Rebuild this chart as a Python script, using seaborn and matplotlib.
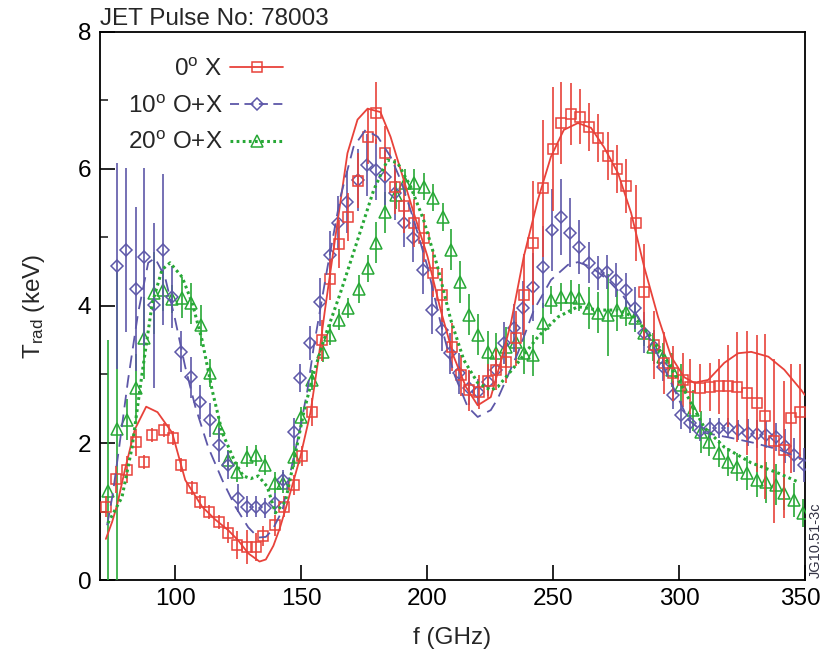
import matplotlib
matplotlib.use("Agg")
import matplotlib.pyplot as plt
import matplotlib.transforms as mtrans
from matplotlib.lines import Line2D
import seaborn as sns

# ------------------------------
# Data
# ------------------------------
# 0 deg X (red squares)
f_x0 = [72.6, 76.5, 80.9, 84.5, 87.7, 90.9, 95.6, 99.2, 102.4, 106.8, 109.9, 113.5, 117.5, 121.1,
        124.7, 128.6, 132.2, 135.0, 139.8, 143.4, 147.0, 150.5, 154.5, 158.1, 161.3, 165.2, 168.8,
        172.4, 176.4, 179.9, 183.5, 187.1, 190.7, 194.7, 198.6, 202.2, 205.8, 209.8, 213.4, 216.5,
        220.5, 224.0, 227.3, 231.3, 235.2, 238.4, 242.0, 246.0, 250.0, 253.1, 257.1, 260.7, 264.3,
        267.9, 271.8, 275.4, 279.0, 283.0, 286.2, 290.1, 294.1, 297.7, 301.7, 304.5, 308.5, 312.4,
        316.0, 319.6, 323.2, 327.1, 331.1, 334.3, 337.9, 341.8, 344.6, 348.2]
t_x0 = [1.07, 1.47, 1.61, 2.01, 1.72, 2.12, 2.19, 2.07, 1.68, 1.34, 1.14, 0.99, 0.85, 0.69,
        0.51, 0.48, 0.48, 0.64, 0.80, 1.07, 1.39, 1.81, 2.45, 3.50, 4.39, 4.91, 5.30,
        5.83, 6.47, 6.82, 6.23, 5.74, 5.46, 5.21, 4.99, 4.48, 4.16, 3.40, 2.99, 2.77,
        2.74, 2.90, 3.07, 3.18, 3.53, 4.16, 4.92, 5.72, 6.29, 6.67, 6.80, 6.76, 6.61,
        6.45, 6.19, 6.00, 5.75, 5.21, 4.20, 3.43, 3.17, 3.02, 2.92, 2.82, 2.80, 2.82,
        2.83, 2.83, 2.82, 2.73, 2.58, 2.39, 2.03, 1.90, 2.36, 2.45]
e_x0 = [0.15, 0.2, 0.2, 0.2, 0.1, 0.1, 0.1, 0.1, 0.1, 0.1, 0.1, 0.1, 0.1, 0.15,
        0.2, 0.25, 0.2, 0.15, 0.15, 0.15, 0.15, 0.15, 0.2, 0.3, 0.3, 0.35, 0.35,
        0.4, 0.4, 0.45, 0.4, 0.4, 0.4, 0.35, 0.35, 0.35, 0.4, 0.35, 0.3, 0.3,
        0.25, 0.25, 0.3, 0.3, 0.4, 0.6, 0.9, 1.0, 0.9, 0.6, 0.45, 0.4, 0.35,
        0.35, 0.35, 0.35, 0.4, 0.55, 0.7, 0.5, 0.45, 0.4, 0.4, 0.4, 0.35, 0.35,
        0.4, 0.6, 0.8, 0.9, 1.0, 1.2, 1.2, 1.0, 0.8, 0.7]

# 10 deg O+X (blue diamonds)
f_x10 = [76.9, 80.5, 84.5, 87.7, 91.6, 95.2, 98.8, 102.4, 106.4, 110.0, 113.9, 117.5, 121.1,
         125.1, 128.6, 132.2, 135.8, 139.8, 143.0, 147.0, 149.7, 153.7, 157.7, 161.3, 164.8,
         168.4, 172.4, 176.0, 179.6, 183.5, 187.1, 190.7, 194.3, 198.2, 201.8, 205.8, 209.0,
         212.6, 216.5, 220.1, 224.1, 227.3, 230.5, 234.4, 238.0, 242.0, 246.0, 249.6, 253.1,
         256.7, 260.3, 264.3, 267.9, 271.4, 275.0, 279.0, 282.6, 286.2, 290.1, 293.7, 297.7,
         300.9, 304.5, 308.5, 312.4, 316.0, 319.6, 323.5, 327.5, 331.1, 334.7, 338.7, 342.2,
         345.8, 349.8]
t_x10 = [4.58, 4.82, 4.25, 4.72, 4.01, 4.82, 4.13, 3.33, 2.96, 2.60, 2.34, 1.97, 1.68,
         1.20, 1.07, 1.07, 1.05, 1.12, 1.46, 2.16, 2.95, 3.46, 4.06, 4.74, 5.21,
         5.52, 5.84, 6.06, 5.99, 5.88, 5.65, 5.21, 4.99, 4.53, 3.94, 3.65, 3.31,
         3.02, 2.80, 2.74, 2.89, 3.07, 3.46, 3.68, 3.97, 4.28, 4.57, 5.11, 5.30,
         5.07, 4.86, 4.63, 4.48, 4.50, 4.38, 4.23, 3.97, 3.61, 3.40, 3.11, 2.70,
         2.41, 2.29, 2.18, 2.22, 2.22, 2.22, 2.19, 2.15, 2.13, 2.12, 2.09, 1.96,
         1.82, 1.68]
e_x10 = [1.5, 1.2, 1.2, 1.3, 1.2, 1.1, 0.45, 0.3, 0.3, 0.25, 0.25, 0.25, 0.2,
         0.2, 0.15, 0.15, 0.15, 0.15, 0.15, 0.2, 0.2, 0.25, 0.35, 0.35, 0.4,
         0.45, 0.45, 0.45, 0.45, 0.4, 0.4, 0.35, 0.35, 0.35, 0.35, 0.3, 0.3,
         0.3, 0.25, 0.2, 0.2, 0.2, 0.3, 0.35, 0.4, 0.5, 0.6, 0.6, 0.55,
         0.5, 0.4, 0.3, 0.25, 0.25, 0.25, 0.25, 0.3, 0.3, 0.25, 0.2, 0.2,
         0.2, 0.15, 0.15, 0.15, 0.15, 0.15, 0.15, 0.2, 0.2, 0.2, 0.2, 0.25,
         0.25, 0.25]

# 20 deg O+X (green triangles)
f_x20 = [73.3, 76.9, 80.9, 84.5, 87.7, 91.6, 95.2, 98.8, 102.8, 106.4, 110.3, 113.9, 117.5,
         121.1, 124.7, 128.6, 132.2, 135.8, 139.8, 143.0, 147.0, 150.0, 154.5, 158.5, 161.3,
         165.2, 168.8, 172.8, 176.4, 179.9, 183.5, 187.5, 191.1, 194.7, 198.6, 202.2, 206.2,
         209.4, 213.0, 216.5, 220.1, 224.1, 227.3, 231.3, 235.2, 238.4, 242.0, 246.0, 249.2,
         253.1, 257.1, 260.3, 264.3, 267.9, 271.8, 275.4, 279.0, 282.6, 286.2, 289.7, 293.7,
         297.3, 300.9, 305.6, 308.8, 312.0, 316.0, 319.6, 323.2, 327.1, 331.1, 334.7, 338.7,
         341.8, 345.8, 349.4]
t_x20 = [1.3, 2.2, 2.34, 2.80, 3.53, 4.19, 4.23, 4.10, 4.12, 4.04, 3.72, 3.02, 2.22,
         1.75, 1.58, 1.80, 1.82, 1.68, 1.42, 1.42, 1.80, 2.38, 2.92, 3.33, 3.58,
         3.80, 3.97, 4.25, 4.55, 4.92, 5.37, 5.62, 5.80, 5.80, 5.74, 5.58, 5.30,
         4.82, 4.35, 3.87, 3.58, 3.33, 3.31, 3.40, 3.47, 3.31, 3.28, 3.75, 4.09,
         4.13, 4.13, 4.12, 3.97, 3.90, 3.87, 3.94, 3.91, 3.82, 3.61, 3.40, 3.26,
         3.07, 2.85, 2.48, 2.16, 2.01, 1.85, 1.72, 1.65, 1.56, 1.46, 1.43, 1.39,
         1.27, 1.17, 0.98]
e_x20 = [2.2, 2.3, 0.3, 0.5, 0.6, 0.6, 0.3, 0.2, 0.3, 0.3, 0.3, 0.2, 0.15,
         0.15, 0.15, 0.15, 0.15, 0.15, 0.15, 0.15, 0.15, 0.15, 0.15, 0.15, 0.15,
         0.15, 0.15, 0.2, 0.2, 0.3, 0.3, 0.2, 0.2, 0.2, 0.2, 0.2, 0.2,
         0.3, 0.3, 0.3, 0.3, 0.3, 0.3, 0.3, 0.3, 0.3, 0.3, 0.3, 0.2,
         0.2, 0.25, 0.2, 0.3, 0.3, 0.6, 0.3, 0.2, 0.2, 0.2, 0.2, 0.2,
         0.25, 0.3, 0.3, 0.3, 0.2, 0.2, 0.2, 0.2, 0.25, 0.25, 0.3, 0.3,
         0.25, 0.25, 0.2]

# model curves
fm_x0 = [72.5, 75.0, 77.0, 80.0, 84.0, 88.5, 93.0, 98.8, 104.0, 110.7, 116.0, 121.0, 125.0,
         129.0, 133.5, 136.0, 139.0, 141.5, 144.5, 149.7, 153.7, 157.0, 159.5, 164.4, 168.4,
         172.4, 176.4, 181.5, 185.5, 189.5, 194.7, 200.2, 205.4, 210.6, 215.4, 220.1, 225.3,
         229.0, 233.3, 238.4, 244.0, 249.2, 254.3, 259.9, 265.1, 270.2, 275.8, 281.0, 286.2,
         291.7, 296.9, 302.1, 306.0, 311.6, 318.0, 323.5, 328.7, 335.5, 341.8, 348.6, 350.0]
tm_x0 = [0.60, 0.85, 1.10, 1.60, 2.20, 2.53, 2.45, 2.15, 1.46, 1.07, 0.88, 0.73, 0.58,
         0.39, 0.27, 0.30, 0.50, 0.75, 1.12, 1.80, 2.44, 3.26, 3.95, 5.21, 6.23,
         6.72, 6.88, 6.83, 6.47, 5.99, 5.36, 4.72, 3.94, 3.26, 2.82, 2.55, 2.67,
         3.15, 3.75, 4.72, 5.55, 6.18, 6.57, 6.67, 6.60, 6.32, 5.94, 5.36, 4.57,
         3.84, 3.26, 2.96, 2.88, 2.92, 3.17, 3.31, 3.33, 3.26, 3.07, 2.77, 2.70]

fm_x10 = [73.0, 75.3, 78.0, 81.3, 85.3, 89.3, 92.0, 96.0, 100.0, 104.0, 108.0, 113.1, 118.7,
          123.9, 129.0, 133.0, 136.0, 138.6, 142.6, 145.7, 149.7, 152.5, 155.0, 160.5, 165.6,
          170.8, 175.6, 180.4, 185.5, 189.5, 194.7, 200.2, 205.4, 210.6, 216.1, 220.1, 225.3,
          228.1, 236.0, 242.4, 249.2, 255.9, 259.9, 265.1, 271.8, 278.2, 283.8, 290.1, 296.9,
          303.7, 310.0, 320.0, 330.0, 340.0, 350.0]
tm_x10 = [0.80, 1.27, 2.00, 2.92, 3.90, 4.63, 4.70, 4.42, 3.80, 3.11, 2.53, 1.94, 1.46,
          1.07, 0.77, 0.62, 0.63, 0.73, 1.02, 1.56, 2.23, 2.77, 3.40, 4.57, 5.59,
          6.32, 6.57, 6.47, 6.18, 5.84, 5.26, 4.57, 3.75, 3.02, 2.53, 2.38, 2.48,
          2.65, 3.31, 3.94, 4.38, 4.60, 4.64, 4.57, 4.38, 4.13, 3.84, 3.40, 2.88,
          2.34, 2.15, 2.08, 2.00, 1.90, 1.75]

fm_x20 = [73.3, 78.9, 82.9, 86.9, 90.9, 94.8, 98.0, 102.8, 106.8, 110.7, 114.7, 118.7, 123.9,
          127.0, 130.0, 133.0, 136.6, 139.8, 143.8, 147.0, 151.0, 155.0, 159.0, 165.6, 172.4,
          178.8, 184.3, 188.3, 193.5, 198.6, 204.2, 209.4, 214.6, 220.1, 225.3, 228.1, 236.0,
          244.0, 252.0, 259.9, 267.9, 275.8, 282.2, 288.9, 295.7, 302.1, 310.0, 318.0, 328.7,
          339.5, 347.4]
tm_x20 = [0.83, 1.21, 1.94, 3.02, 4.04, 4.53, 4.63, 4.42, 4.04, 3.50, 2.77, 2.15, 1.71,
          1.52, 1.48, 1.52, 1.36, 0.98, 1.15, 1.71, 2.44, 3.02, 3.50, 4.19, 4.96,
          5.69, 6.13, 6.09, 5.74, 5.26, 4.57, 3.80, 3.21, 2.88, 2.77, 2.82, 3.17,
          3.55, 3.84, 3.99, 3.94, 3.94, 3.84, 3.55, 3.17, 2.77, 2.23, 1.94, 1.71,
          1.56, 1.43]

labels = ["0$^{\\rm o}$ X", "10$^{\\rm o}$ O+X", "20$^{\\rm o}$ O+X"]
x_ticks = [100, 150, 200, 250, 300, 350]
y_ticks = [0, 2, 4, 6, 8]

red = "#e8423a"
blue = "#5d57a8"
green = "#27a836"

# ------------------------------
# Style
# ------------------------------
sns.set_theme(style="ticks")
fam = "Liberation Sans"
fs = 17.5
plt.rcParams["font.family"] = [fam, "DejaVu Sans"]
plt.rcParams["mathtext.fontset"] = "custom"
plt.rcParams["mathtext.rm"] = fam
plt.rcParams["mathtext.it"] = fam

fig = plt.figure(figsize=(8.23, 6.51), dpi=100)
ax = fig.add_axes([0.121, 0.109, 0.857, 0.842])

# error bars + markers
series = [
    (f_x0, t_x0, e_x0, red, "s", 7.0, 5),
    (f_x10, t_x10, e_x10, blue, "D", 6.5, 4),
    (f_x20, t_x20, e_x20, green, "^", 8.0, 3),
]
for fx, tx, ex, col, mk, ms, z in series:
    ax.errorbar(fx, tx, yerr=ex, fmt="none", ecolor=col, elinewidth=1.2, capsize=0, zorder=z)
    ax.plot(fx, tx, ls="none", marker=mk, ms=ms, mfc="none", mec=col, mew=1.1, zorder=z + 0.5)

# model curves
sns.lineplot(x=fm_x0, y=tm_x0, ax=ax, color=red, linewidth=1.3, sort=False, zorder=6)
sns.lineplot(x=fm_x10, y=tm_x10, ax=ax, color=blue, linewidth=1.3, sort=False, zorder=6)
ax.lines[-1].set_dashes([7, 4])
sns.lineplot(x=fm_x20, y=tm_x20, ax=ax, color=green, linewidth=2.2, sort=False, zorder=6)
ax.lines[-1].set_linestyle((0, (0.9, 1.1)))

ax.set_xlim(70, 350)
ax.set_ylim(0, 8)
ax.set_xticks(x_ticks)
ax.set_yticks(y_ticks)
ax.set_yticks([1, 3, 5, 7], minor=True)
ax.tick_params(axis="both", which="major", direction="in", length=11, width=1.2,
               labelsize=fs, colors="black", pad=6)
ax.tick_params(axis="y", which="minor", direction="in", length=6, width=1.2)
for sp in ax.spines.values():
    sp.set_linewidth(1.3)
    sp.set_color("black")

# nudge the last x label so it stays inside the figure
last = ax.get_xticklabels()[-1]
last.set_transform(last.get_transform() + mtrans.ScaledTranslation(-5 / 100, 0, fig.dpi_scale_trans))

ax.set_xlabel("f (GHz)", fontsize=fs, labelpad=12)
ax.set_ylabel("T$_{\\rm rad}$ (keV)", fontsize=fs, labelpad=22)
ax.text(0.0, 1.003, "JET Pulse No: 78003", transform=ax.transAxes, fontsize=fs,
        ha="left", va="bottom")
fig.text(0.991, 0.17, "JG10.51-3c", rotation=90, fontsize=10.5, color="#333344",
         ha="center", va="center")

handles = [
    Line2D([], [], color=red, lw=1.3, marker="s", ms=7, mfc="none", mew=1.1),
    Line2D([], [], color=blue, lw=1.3, dashes=[5, 3], marker="D", ms=6, mfc="none", mew=1.1),
    Line2D([], [], color=green, lw=2.2, ls=(0, (0.9, 1.1)), marker="^", ms=8, mfc="none", mew=1.1),
]
ax.legend(handles, labels, loc="upper left", bbox_to_anchor=(0.1555, 0.910),
          bbox_transform=fig.transFigure, markerfirst=False, frameon=False,
          fontsize=fs, handlelength=2.2, handletextpad=0.3, labelspacing=0.6,
          borderpad=0, borderaxespad=0)

fig.savefig("out.png", dpi=100)
